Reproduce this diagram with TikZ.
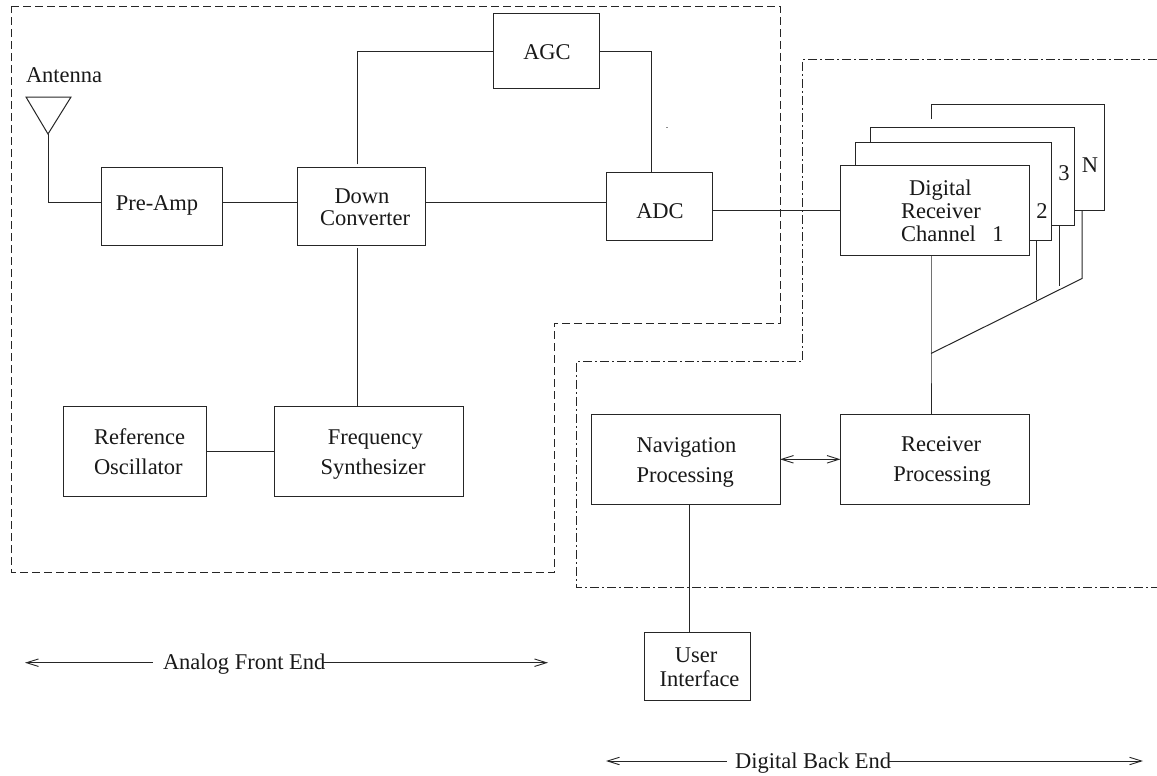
\documentclass[tikz,border=0pt]{standalone}
\usepackage{fontspec}
\setmainfont{Liberation Serif}
\usetikzlibrary{arrows.meta}
\newcommand{\bx}[5]{\node[blockbox,minimum width={(#4-#2)*1pt},minimum height={(#5-#3)*1pt}] (#1) at ({(#2+#4)/2},{(#3+#5)/2}) {};}
\tikzset{
  blockbox/.style={draw=black!85,fill=white,line width=1pt,inner sep=0pt,outer sep=0pt},
  wire/.style={draw=black!85,line width=1pt,line join=miter},
  tipbarb/.style={},
  farrow/.style={wire,{Straight Barb[length=12pt,width=7.5pt,line width=0.9pt]}-{Straight Barb[length=12pt,width=7.5pt,line width=0.9pt]}},
  larrow/.style={wire,{Straight Barb[length=12pt,width=7.5pt,line width=0.9pt]}-},
  rarrow/.style={wire,-{Straight Barb[length=12pt,width=7.5pt,line width=0.9pt]}},
  zonedash/.style={draw=black!85,line width=0.9pt,dash pattern=on 8pt off 4pt},
  zonedot/.style={draw=black!85,line width=0.9pt,dash pattern=on 9pt off 3pt on 2pt off 3pt},
  lab/.style={font=\fontsize{22.5}{24}\selectfont,inner sep=0pt,outer sep=0pt,anchor=base,text=black!90},
  labw/.style={lab,anchor=base west}
}
\begin{document}
\begin{tikzpicture}[x=1pt,y=-1pt]
\useasboundingbox (0,0) rectangle (1157,776);
% zones
\draw[zonedash] (11,6) -- (780,6) -- (780,323) -- (554,323) -- (554,572.5) -- (11,572.5) -- cycle;
\draw[zonedot] (1157,59.3) -- (802.7,59.3) -- (802.7,361) -- (576.5,361) -- (576.5,587) -- (1157,587);
% speck
\fill[black!45] (666.3,126.7) rectangle (667.8,127.4);
% blocks
\bx{preamp}{101}{167.7}{222}{245}
\bx{down}{297}{167.7}{425.7}{245}
\bx{agc}{493.3}{14}{599}{89}
\bx{adc}{606.3}{172.3}{712.3}{240}
\bx{refosc}{63.3}{406}{206.7}{496.7}
\bx{synth}{274.5}{406}{463.3}{496.7}
\bx{nav}{591.5}{414}{780}{504.3}
\bx{rxproc}{840.5}{414}{1029.3}{504.3}
\bx{ui}{644.5}{632.7}{750}{700.7}
% antenna
\coordinate (anttip) at (48,134);
\coordinate (antl) at (26,97);
\coordinate (antr) at (71,97);
\draw[wire] (antl) -- (antr) -- (anttip) -- cycle;
% channel stack
\coordinate (chNa) at (931,119);
\coordinate (chNb) at (931,104.5);
\coordinate (chNc) at (1104.5,104.5);
\coordinate (chNd) at (1104.5,210.5);
\coordinate (chNe) at (1074,210.5);
\draw[wire] (chNa) -- (chNb) -- (chNc) -- (chNd) -- (chNe);
\bx{ch3}{870.5}{127.5}{1074.5}{225.5}
\bx{ch2}{855.5}{142.5}{1051.5}{240.5}
\bx{ch1}{840.5}{165}{1029.5}{255.5}
% bus
\coordinate (bus) at (931,353.5);
\coordinate (bus2) at (1036.7,300);
\coordinate (bus3) at (1059.3,286);
\coordinate (busN) at (1082,278.5);
\draw[wire] (ch1.south -| bus) -- (bus) -- (rxproc.north -| bus);
\draw[wire] (bus) -- (busN) -- (chNe -| busN);
\draw[wire] (ch2.south -| bus2) -- (bus2);
\draw[wire] (ch3.south -| bus3) -- (bus3);
% connectors
\coordinate (w1) at (0,202.3);
\coordinate (w3) at (0,210);
\coordinate (w4) at (0,451.3);
\coordinate (w5) at (0,459.3);
\coordinate (agcA) at (357.7,51.7);
\coordinate (agcB) at (651.7,51.7);
\coordinate (gapA) at (357.7,164.3);
\coordinate (gapB) at (357.7,248.3);
\draw[wire] (anttip) |- (preamp.west |- w1);
\draw[wire] (preamp.east |- w1) -- (down.west |- w1);
\draw[wire] (down.east |- w1) -- (adc.west |- w1);
\draw[wire] (adc.east |- w3) -- (ch1.west |- w3);
\draw[wire] (gapA) -- (agcA) -- (agc.west |- agcA);
\draw[wire] (agc.east |- agcB) -- (agcB) -- (adc.north -| agcB);
\draw[wire] (gapB) -- (synth.north -| gapB);
\draw[wire] (refosc.east |- w4) -- (synth.west |- w4);
\draw[farrow] (nav.east |- w5) -- (rxproc.west |- w5);
\coordinate (uix) at (689.5,0);
\draw[wire] (nav.south -| uix) -- (ui.north -| uix);
% range arrows
\node[labw] (afe) at (163,669.7) {Analog Front End};
\node[labw] (dbe) at (735,768) {Digital Back End};
\coordinate (afeL) at (25,662.7);
\coordinate (afeG) at (153,662.7);
\coordinate (afeH) at (323,662.7);
\coordinate (afeR) at (548,662.7);
\coordinate (dbeL) at (606,761);
\coordinate (dbeG) at (726.7,761);
\coordinate (dbeH) at (888,761);
\coordinate (dbeR) at (1143,761);
\draw[larrow] (afeL) -- (afeG);
\draw[rarrow] (afeH) -- (afeR);
\draw[larrow] (dbeL) -- (dbeG);
\draw[rarrow] (dbeH) -- (dbeR);
% labels
\node[labw] (tAnt) at (26,82) {Antenna};
\node[lab] (tPre) at (157,210) {Pre-Amp};
\node[lab] (tDown) at (362,203.3) {Down};
\node[lab] (tConv) at (365,225.3) {Converter};
\node[lab] (tAgc) at (547,59.3) {AGC};
\node[lab] (tAdc) at (660,218.3) {ADC};
\node[labw] (tRef) at (94,444) {Reference};
\node[labw] (tOsc) at (94,474) {Oscillator};
\node[lab] (tFreq) at (375.3,444) {Frequency};
\node[lab] (tSyn) at (373,474) {Synthesizer};
\node[labw] (tDig) at (909,195) {Digital};
\node[labw] (tRec) at (901,218) {Receiver};
\node[labw] (tCha) at (901,241) {Channel};
\node[lab] (t1) at (998,241) {1};
\node[lab] (t2) at (1042,218) {2};
\node[lab] (t3) at (1064,180) {3};
\node[lab] (tN) at (1090,172.5) {N};
\node[labw] (tNav) at (636.5,452) {Navigation};
\node[labw] (tPro) at (636.5,482) {Processing};
\node[lab] (tRx) at (941,451.7) {Receiver};
\node[lab] (tRxP) at (942,481.7) {Processing};
\node[lab] (tUser) at (696,662.7) {User};
\node[lab] (tInt) at (699.5,686.7) {Interface};
\end{tikzpicture}
\end{document}
